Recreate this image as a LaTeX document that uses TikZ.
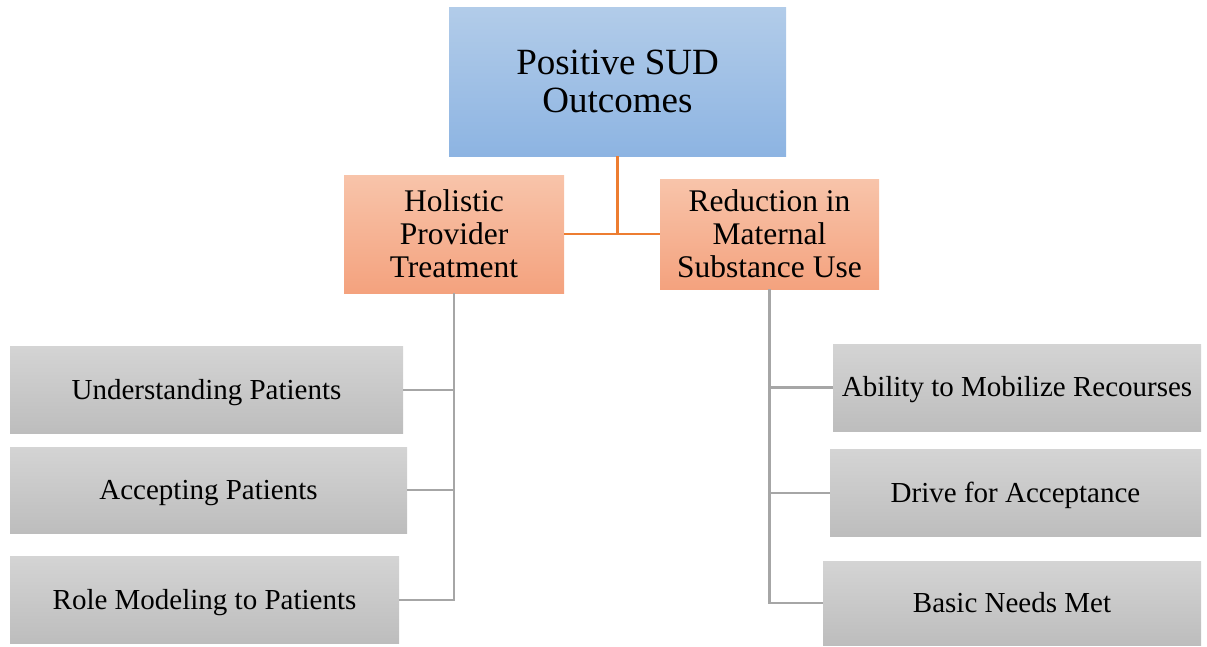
\documentclass[tikz,border=0pt]{standalone}
\usepackage{fontspec}
\setmainfont{Liberation Serif}
\usepackage{tikz}
\usetikzlibrary{
    positioning,      % For placing nodes relative to each other
    calc              % For calculating coordinates
}

\begin{document}
\begin{tikzpicture}[
    % Global settings: one unit is one pixel of the reference, y grows downwards
    x=1pt, y=-1pt,
    % Style for the top (blue) outcome box
    outcome_box/.style={
        top color={rgb,255:red,178;green,204;blue,233},
        bottom color={rgb,255:red,141;green,180;blue,226},
        inner sep=0pt,
        align=center,
        font=\fontsize{37}{38}\selectfont
    },
    % Style for the two orange theme boxes
    theme_box/.style={
        top color={rgb,255:red,248;green,196;blue,170},
        bottom color={rgb,255:red,244;green,162;blue,126},
        inner sep=0pt,
        align=center,
        font=\fontsize{31.5}{33}\selectfont
    },
    % Style for the grey sub-theme boxes
    sub_box/.style={
        top color={rgb,255:red,212;green,212;blue,212},
        bottom color={rgb,255:red,189;green,189;blue,189},
        inner sep=0pt,
        minimum height=87pt,
        text height=19pt, text depth=0.5pt,
        align=center,
        font=\fontsize{29}{34}\selectfont
    },
    % Style for the connectors
    orange_line/.style={
        draw={rgb,255:red,237;green,125;blue,49},
        line width=2.5pt
    },
    grey_line/.style={
        draw={rgb,255:red,166;green,166;blue,166},
        line width=2.5pt
    }
]
    \useasboundingbox (0,0) rectangle (1207,646);

    % 1. The main outcome at the top.
    \node[outcome_box, minimum width=337pt, minimum height=149pt] (sud_outcomes) at (617.5,81.5) {Positive SUD\\Outcomes};

    % 2. The two themes below it.
    \node[theme_box, minimum width=220pt, minimum height=118pt] (holistic) at (454,234) {Holistic\\Provider\\Treatment};
    \node[theme_box, minimum width=219pt, minimum height=110pt] (reduction) at (769.5,234) {Reduction in\\Maternal\\Substance Use};

    % 3. Sub-themes on the left (under Holistic Provider Treatment).
    \node[sub_box, minimum width=393pt] (understanding) at (206.5,390) {Understanding Patients};
    \node[sub_box, minimum width=397pt, minimum height=86pt] (accepting) at (208.5,490) {Accepting Patients};
    \node[sub_box, minimum width=389pt] (role_modeling) at (204.5,600) {Role Modeling to Patients};

    % 4. Sub-themes on the right (under Reduction in Maternal Substance Use).
    \node[sub_box, minimum width=368pt] (mobilize) at (1017,387.5) {Ability to Mobilize Recourses};
    \node[sub_box, minimum width=371pt] (drive) at (1015.5,493) {Drive for Acceptance};
    \node[sub_box, minimum width=378pt, minimum height=84pt] (basic_needs) at (1012,603) {Basic Needs Met};

    % 5. Orange connectors from the outcome to the themes.
    \draw[orange_line] (sud_outcomes.south) |- (holistic.east);
    \draw[orange_line] (sud_outcomes.south) |- (reduction.west);

    % 6. Grey trunks and branches to the sub-themes.
    \draw[grey_line] (holistic.south) |- (role_modeling.east);
    \draw[grey_line] (understanding.east) -- (understanding.east -| holistic.south);
    \draw[grey_line] (accepting.east) -- (accepting.east -| holistic.south);

    \draw[grey_line] (reduction.south) |- (basic_needs.west);
    \draw[grey_line] (mobilize.west) -- (mobilize.west -| reduction.south);
    \draw[grey_line] (drive.west) -- (drive.west -| reduction.south);

\end{tikzpicture}
\end{document}
